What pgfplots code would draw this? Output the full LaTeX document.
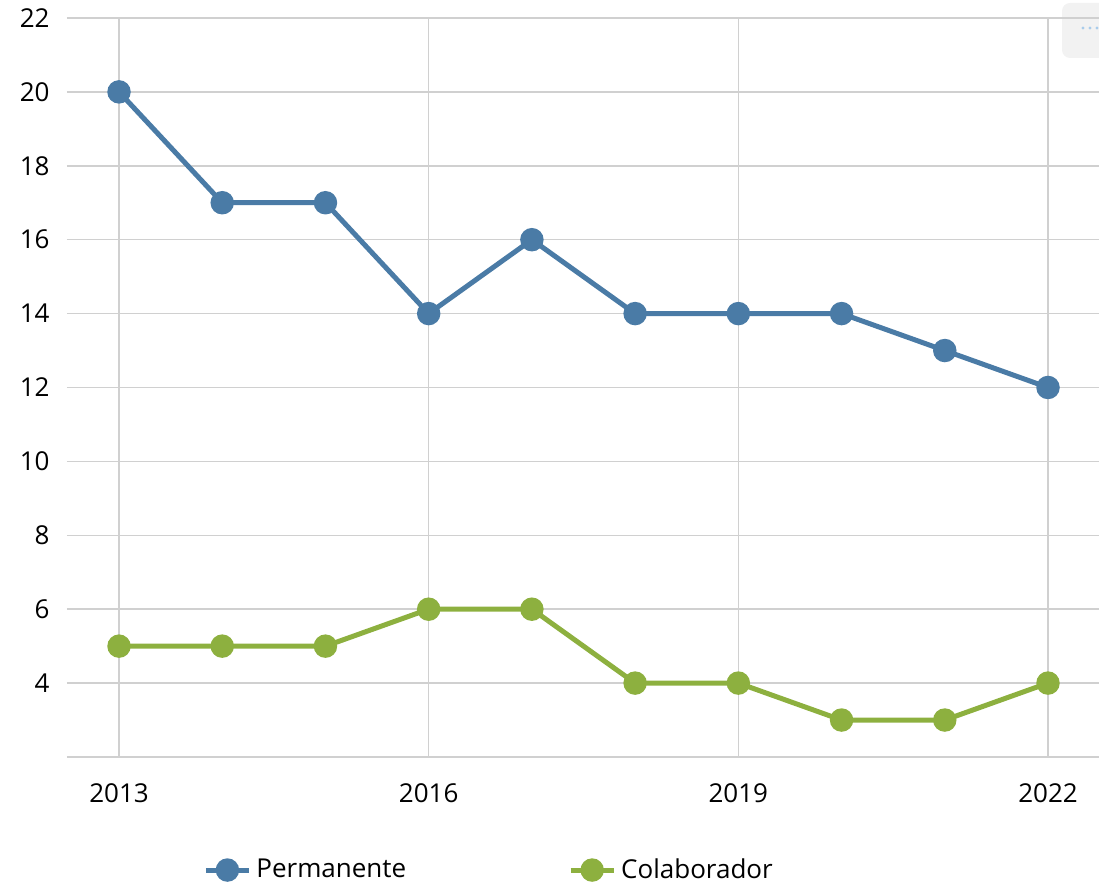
\documentclass[border=0pt]{standalone}
\usepackage{fontspec}
\setmainfont{Open Sans}
\usepackage{pgfplots}
\pgfplotsset{compat=1.18}
\definecolor{perm}{HTML}{4A7BA6}
\definecolor{colab}{HTML}{8DB03F}
\definecolor{gridc}{HTML}{D0D0D0}
\definecolor{btn}{HTML}{F2F2F2}
\definecolor{dots}{HTML}{A9CCEB}
\begin{document}
\begin{tikzpicture}
\useasboundingbox (0,0) rectangle (549.5pt,441pt);
\clip (0,0) rectangle (549.5pt,441pt);
\fill[btn, rounded corners=4pt] (531pt,412pt) rectangle (560pt,439.5pt);
\foreach \dx in {541.5,545,548.5} \fill[dots] (\dx pt,427pt) circle (0.8pt);
\begin{axis}[
  at={(33.5pt,62.5pt)}, anchor=south west,
  scale only axis, width=516pt, height=369.5pt,
  xmin=2012.496, xmax=2022.494, ymin=2, ymax=22,
  xtick={2013,2016,2019,2022}, ytick={4,6,...,22},
  axis x line*=bottom, axis y line*=left,
  x axis line style={gridc, line width=0.75pt, -},
  y axis line style={draw=none},
  major tick length=0pt,
  grid=major, major grid style={gridc, line width=0.75pt},
  /pgf/number format/assume math mode=true,
  /pgf/number format/1000 sep={},
  tick label style={font=\fontsize{13}{15}\selectfont, inner sep=0pt},
  yticklabel style={anchor=east, xshift=-8.5pt},
  xticklabel style={anchor=north, yshift=-13pt},
  legend columns=2,
  legend style={at={(0.1318,-0.1530)}, anchor=west, draw=none, fill=none, inner sep=0pt,
    font=\fontsize{13}{15}\selectfont,
    nodes={inner sep=2.5pt},
    /tikz/every even column/.append style={column sep=78.5pt}},
  legend cell align=left,
  legend image code/.code={\draw[mark repeat=2,mark phase=2,#1] plot coordinates {(0pt,0pt) (10.75pt,0pt) (21.5pt,0pt)};},
  every axis plot/.append style={line width=2.5pt, mark=*, mark size=4.6pt, mark options={solid, line width=0.5pt}},
]
\addplot[perm, mark options={fill=perm, draw=perm}] coordinates {
(2013,20) (2014,17) (2015,17) (2016,14) (2017,16) (2018,14) (2019,14) (2020,14) (2021,13) (2022,12)};
\addlegendentry{Permanente}
\addplot[colab, mark options={fill=colab, draw=colab}] coordinates {
(2013,5) (2014,5) (2015,5) (2016,6) (2017,6) (2018,4) (2019,4) (2020,3) (2021,3) (2022,4)};
\addlegendentry{Colaborador}
\end{axis}
\end{tikzpicture}
\end{document}
